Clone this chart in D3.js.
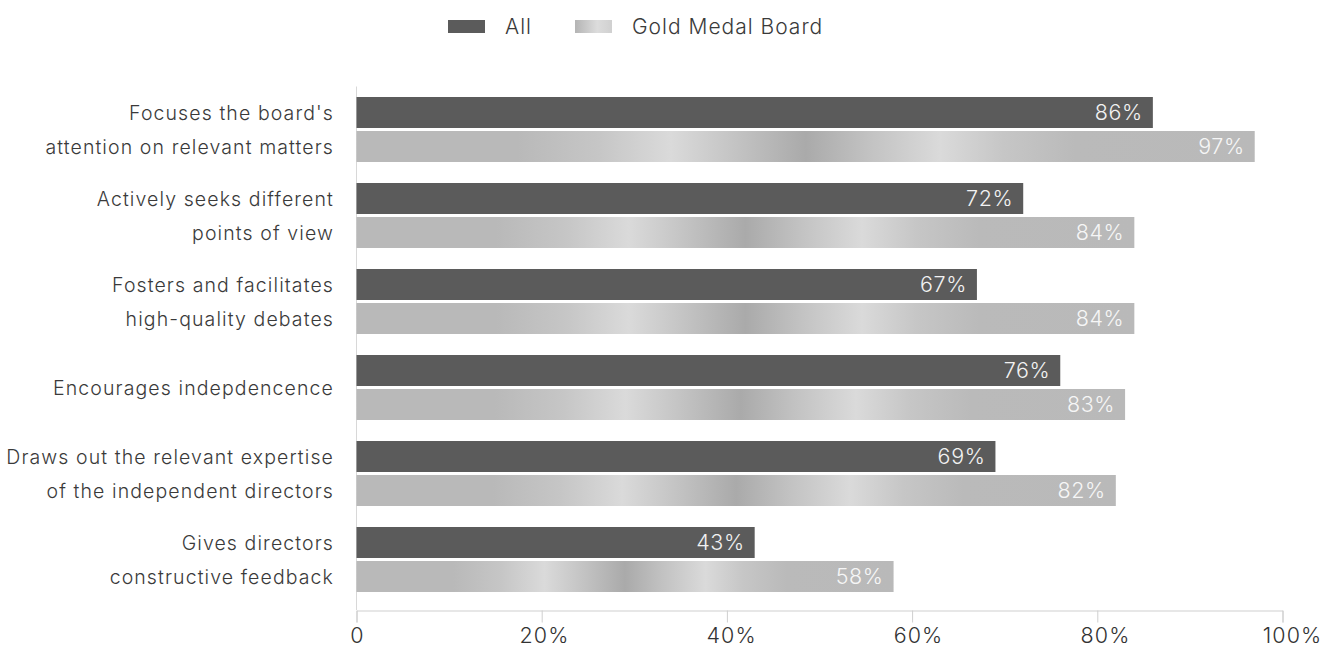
<!DOCTYPE html>
<html>
<head>
<meta charset="utf-8">
<script src="https://cdn.jsdelivr.net/npm/d3@7"></script>
<style>
  html, body { margin: 0; padding: 0; background: #fff; }
  svg { display: block; font-family: Inter, "Noto Sans", sans-serif; font-weight: 300; }
</style>
</head>
<body>
<svg id="chart" width="1327" height="648"></svg>
<script>
// Chair effectiveness: share of respondents agreeing, all boards vs Gold Medal boards
const categories = [
  ["Focuses the board's", "attention on relevant matters"],
  ["Actively seeks different", "points of view"],
  ["Fosters and facilitates", "high-quality debates"],
  ["Encourages indepdencence"],
  ["Draws out the relevant expertise", "of the independent directors"],
  ["Gives directors", "constructive feedback"]
];
const allValues  = [86, 72, 67, 76, 69, 43];
const goldValues = [97, 84, 84, 83, 82, 58];
const seriesNames = ["All", "Gold Medal Board"];
const tickValues = [0, 20, 40, 60, 80, 100];
const tickLabels = ["0", "20%", "40%", "60%", "80%", "100%"];

const svg = d3.select("#chart");
const margin = { left: 356.5, top: 86.5 };

const x = d3.scaleLinear().domain([0, 100]).range([margin.left, margin.left + 926]);
const y = d3.scaleBand().domain(d3.range(categories.length))
  .range([margin.top, margin.top + 516]).paddingInner(0).paddingOuter(0);
const barH = 31, barGap = 3;
const groupH = barH * 2 + barGap;
const offset = (y.bandwidth() - groupH) / 2;

// metallic sheen for the Gold Medal bars
const defs = svg.append("defs");
const grad = defs.append("linearGradient").attr("id", "gold")
  .attr("x1", "0%").attr("x2", "100%").attr("y1", "0%").attr("y2", "0%");
[
  [0, "#b9b9b9"], [0.18, "#b9b9b9"], [0.27, "#c6c6c6"], [0.35, "#dadada"],
  [0.42, "#c4c4c4"], [0.50, "#aaaaaa"], [0.57, "#c2c2c2"], [0.65, "#dadada"],
  [0.72, "#c6c6c6"], [0.80, "#bababa"], [1, "#b9b9b9"]
].forEach(([o, c]) => grad.append("stop").attr("offset", o).attr("stop-color", c));

const legGrad = defs.append("linearGradient").attr("id", "goldLegend")
  .attr("x1", "0%").attr("x2", "100%");
[[0, "#b4b4b4"], [0.6, "#dcdcdc"], [1, "#d0d0d0"]]
  .forEach(([o, c]) => legGrad.append("stop").attr("offset", o).attr("stop-color", c));

// bottom axis
const axis = svg.append("g").attr("transform", `translate(0,${610.5})`)
  .call(d3.axisBottom(x).tickValues(tickValues).tickSize(12)
    .tickFormat((d, i) => tickLabels[i]));
axis.select(".domain").attr("stroke", "#cfcfcf").attr("stroke-width", 1);
axis.selectAll(".tick line").attr("stroke", "#cfcfcf");
axis.selectAll(".tick text").attr("fill", "#333").attr("font-size", 21.5)
  .attr("letter-spacing", 1.1)
  .attr("font-family", "Inter, 'Noto Sans', sans-serif").attr("font-weight", 300)
  .attr("x", d => d * 0.09 + 0.5)
  .attr("y", 17.5).attr("dy", "0.71em");

// thin baseline on the left of bars
svg.append("line").attr("x1", x(0)).attr("x2", x(0))
  .attr("y1", margin.top).attr("y2", 610).attr("stroke", "#d8d8d8");

const groups = svg.append("g").selectAll("g").data(categories).join("g")
  .attr("transform", (d, i) => `translate(0,${y(i) + offset})`);

groups.append("rect").attr("x", x(0)).attr("y", 0).attr("height", barH)
  .attr("width", (d, i) => x(allValues[i]) - x(0)).attr("fill", "#5b5b5b");

groups.append("rect").attr("x", x(0)).attr("y", barH + barGap).attr("height", barH)
  .attr("width", (d, i) => x(goldValues[i]) - x(0)).attr("fill", "url(#gold)");

groups.append("text").attr("x", (d, i) => x(allValues[i]) - 10).attr("y", barH / 2)
  .attr("dy", "0.36em").attr("text-anchor", "end").attr("font-size", 21.5)
  .attr("letter-spacing", 0.6)
  .attr("fill", "#f2f2f2").text((d, i) => allValues[i] + "%");

groups.append("text").attr("x", (d, i) => x(goldValues[i]) - 10).attr("y", barH + barGap + barH / 2)
  .attr("dy", "0.36em").attr("text-anchor", "end").attr("font-size", 21.5)
  .attr("letter-spacing", 0.6)
  .attr("fill", "#f6f6f6").text((d, i) => goldValues[i] + "%");

// category labels
groups.each(function(lines) {
  const g = d3.select(this);
  const centers = lines.length === 2 ? [barH / 2, barH + barGap + barH / 2] : [groupH / 2];
  lines.forEach((ln, k) => {
    g.append("text").attr("x", 334).attr("y", centers[k]).attr("dy", "0.36em")
      .attr("text-anchor", "end").attr("font-size", 19.5).attr("letter-spacing", 1.1)
      .attr("fill", "#3a3a3a").text(ln);
  });
});

// legend
const legend = svg.append("g");
legend.append("rect").attr("x", 448).attr("y", 20).attr("width", 37).attr("height", 13).attr("fill", "#5b5b5b");
legend.append("text").attr("x", 505).attr("y", 26.5).attr("dy", "0.36em")
  .attr("font-size", 21).attr("letter-spacing", 1)
  .attr("fill", "#3a3a3a").text(seriesNames[0]);
legend.append("rect").attr("x", 575).attr("y", 20).attr("width", 37).attr("height", 13).attr("fill", "url(#goldLegend)");
legend.append("text").attr("x", 632).attr("y", 26.5).attr("dy", "0.36em")
  .attr("font-size", 21).attr("letter-spacing", 1)
  .attr("fill", "#3a3a3a").text(seriesNames[1]);
</script>
</body>
</html>
